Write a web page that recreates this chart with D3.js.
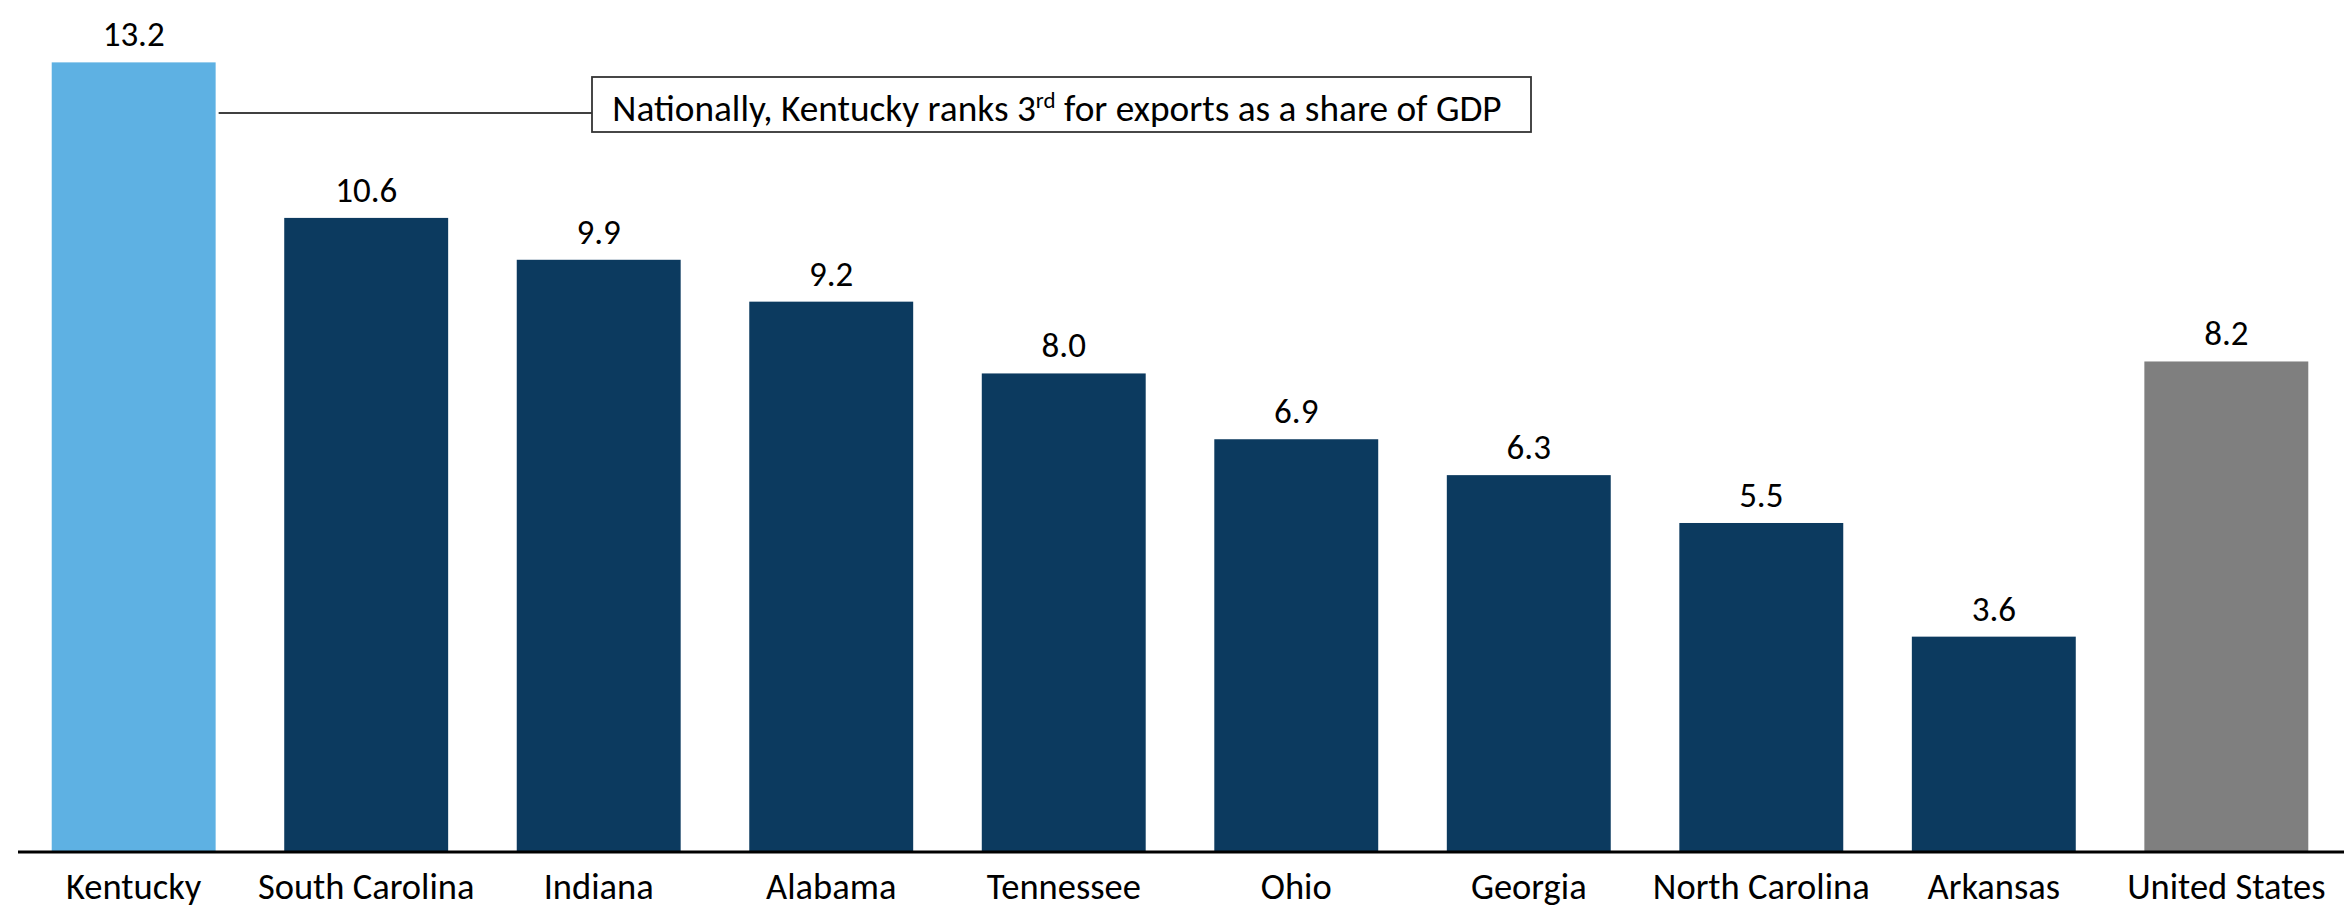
<!DOCTYPE html>
<html>
<head>
<meta charset="utf-8">
<script src="https://cdn.jsdelivr.net/npm/d3@7/dist/d3.min.js"></script>
<style>
  html, body { margin: 0; padding: 0; background: #ffffff; }
  svg { display: block; }
  text { font-family: Carlito, Calibri, Lato, "Open Sans", sans-serif; fill: #000; }
</style>
</head>
<body>
<svg id="chart" width="2344" height="908"></svg>
<script>
// Exports as a share of GDP (%), selected states and the U.S.
const states = ["Kentucky", "South Carolina", "Indiana", "Alabama", "Tennessee",
                "Ohio", "Georgia", "North Carolina", "Arkansas", "United States"];
const exportShare = [13.2, 10.6, 9.9, 9.2, 8.0, 6.9, 6.3, 5.5, 3.6, 8.2];
const highlight = "Kentucky";
const benchmark = "United States";
const noteText = ["Nationally, Kentucky ranks 3", "rd", " for exports as a share of GDP"];

const data = states.map((s, i) => ({ state: s, value: exportShare[i] }));

const W = 2344, H = 908;
const baseY = 852;
const svg = d3.select("#chart");

const x = d3.scaleBand()
  .domain(states)
  .range([18, 2342])
  .paddingInner(0.295)
  .paddingOuter(0.145);

const y = d3.scaleLinear()
  .domain([0, 14])
  .range([baseY, baseY - 14 * 59.82]);

const colorOf = s => s === highlight ? "#5EB1E3" : (s === benchmark ? "#7F7F7F" : "#0C3A5F");

// bars
svg.append("g").selectAll("rect")
  .data(data)
  .join("rect")
  .attr("x", d => x(d.state))
  .attr("y", d => y(d.value))
  .attr("width", x.bandwidth())
  .attr("height", d => baseY - y(d.value))
  .attr("fill", d => colorOf(d.state));

// value labels
svg.append("g").selectAll("text")
  .data(data)
  .join("text")
  .attr("x", d => x(d.state) + x.bandwidth() / 2)
  .attr("y", d => y(d.value) - 16)
  .attr("text-anchor", "middle")
  .attr("font-size", 35)
  .text(d => d.value.toFixed(1));

// category axis
const axis = svg.append("g")
  .attr("transform", `translate(0,${baseY})`)
  .call(d3.axisBottom(x).tickSize(0).tickPadding(0));
axis.select(".domain").remove();
axis.append("line")
  .attr("x1", 18).attr("x2", W)
  .attr("y1", 0).attr("y2", 0)
  .attr("stroke", "#000").attr("stroke-width", 3);
axis.selectAll(".tick text")
  .attr("y", 47)
  .attr("dy", null)
  .attr("font-size", 36.5)
  .attr("fill", "#000")
  .style("font-family", "Carlito, Calibri, Lato, 'Open Sans', sans-serif");

// callout
const ky = data[0];
const boxX = 592, boxY = 77, boxW = 939, boxH = 55;
svg.append("line")
  .attr("x1", x(ky.state) + x.bandwidth() + 3)
  .attr("x2", boxX)
  .attr("y1", 113).attr("y2", 113)
  .attr("stroke", "#000").attr("stroke-width", 1.5);
svg.append("rect")
  .attr("x", boxX).attr("y", boxY)
  .attr("width", boxW).attr("height", boxH)
  .attr("fill", "#fff")
  .attr("stroke", "#333").attr("stroke-width", 1.8);
const note = svg.append("text")
  .attr("x", 1057)
  .attr("y", 121)
  .attr("text-anchor", "middle")
  .attr("font-size", 37.3);
note.append("tspan").text(noteText[0]);
note.append("tspan").attr("font-size", 23).attr("dy", -13).text(noteText[1]);
note.append("tspan").attr("dy", 13).text(noteText[2]);
</script>
</body>
</html>
